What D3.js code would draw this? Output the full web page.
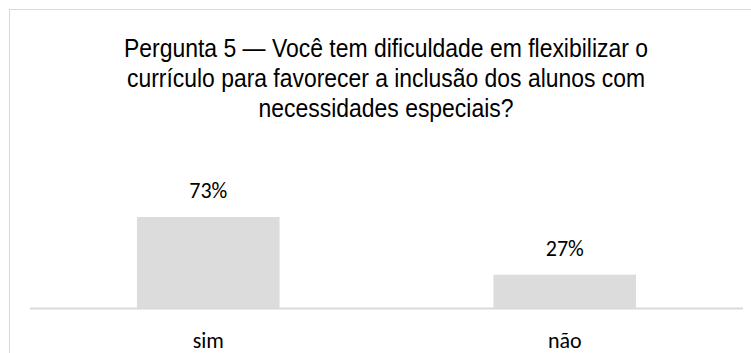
<!DOCTYPE html>
<html>
<head>
<meta charset="utf-8">
<script src="https://cdn.jsdelivr.net/npm/d3@7"></script>
<style>
  body { margin: 0; background: #fff; }
  svg { display: block; }
</style>
</head>
<body>
<svg id="chart"></svg>
<script>
// data
const categories = ["sim", "não"];
const values = [0.73, 0.27];
const titleLines = [
    "Pergunta 5 — Você tem dificuldade em flexibilizar o",
    "currículo para favorecer a inclusão dos alunos com",
    "necessidades especiais?"
];

var width = 751;
var height = 353;

var margins = { left: 30, right: 8, top: 0, bottom: 0 };
var baseline = 308.5;

const svg = d3.select("#chart")
    .attr("width", width)
    .attr("height", height);

// chart frame
svg.append("rect")
    .attr("x", 9.5)
    .attr("y", 9.5)
    .attr("width", 760)
    .attr("height", 360)
    .attr("fill", "#fff")
    .attr("stroke", "#d9d9d9")
    .attr("stroke-width", 1);

// title (condensed in the original, so squeeze each line to its width)
const titleWidths = [524, 518, 255];
svg.append("g")
    .attr("font-family", "'Liberation Sans', Arial, sans-serif")
    .attr("font-size", 25.5)
    .attr("fill", "#000")
    .selectAll("text")
    .data(titleLines)
    .join("text")
    .attr("x", 386)
    .attr("y", (d, i) => 57 + i * 30)
    .attr("text-anchor", "middle")
    .attr("textLength", (d, i) => titleWidths[i])
    .attr("lengthAdjust", "spacingAndGlyphs")
    .text(d => d);

const x = d3.scaleBand()
    .domain(categories)
    .range([margins.left, width - margins.right])
    .paddingInner(0.6)
    .paddingOuter(0.3);

const y = d3.scaleLinear()
    .domain([0, 1])
    .range([baseline, baseline - 125.3]);

// bars
svg.append("g")
    .selectAll("rect")
    .data(values)
    .join("rect")
    .attr("x", (d, i) => x(categories[i]))
    .attr("y", d => y(d))
    .attr("width", x.bandwidth())
    .attr("height", d => y(0) - y(d))
    .attr("fill", "#dcdcdc");

// axis line
svg.append("line")
    .attr("x1", margins.left)
    .attr("x2", width - margins.right)
    .attr("y1", baseline)
    .attr("y2", baseline)
    .attr("stroke", "#d9d9d9")
    .attr("stroke-width", 2);

const labelFont = "Carlito, Calibri, 'Open Sans', sans-serif";

// value labels
svg.append("g")
    .attr("font-family", labelFont)
    .attr("font-size", 22)
    .attr("fill", "#000")
    .selectAll("text")
    .data(values)
    .join("text")
    .attr("x", (d, i) => x(categories[i]) + x.bandwidth() / 2)
    .attr("y", d => y(d) - 19)
    .attr("text-anchor", "middle")
    .text(d => Math.round(d * 100) + "%");

// category labels
svg.append("g")
    .attr("font-family", labelFont)
    .attr("font-size", 22)
    .attr("fill", "#000")
    .selectAll("text")
    .data(categories)
    .join("text")
    .attr("x", d => x(d) + x.bandwidth() / 2)
    .attr("y", 348)
    .attr("text-anchor", "middle")
    .text(d => d);
</script>
</body>
</html>
